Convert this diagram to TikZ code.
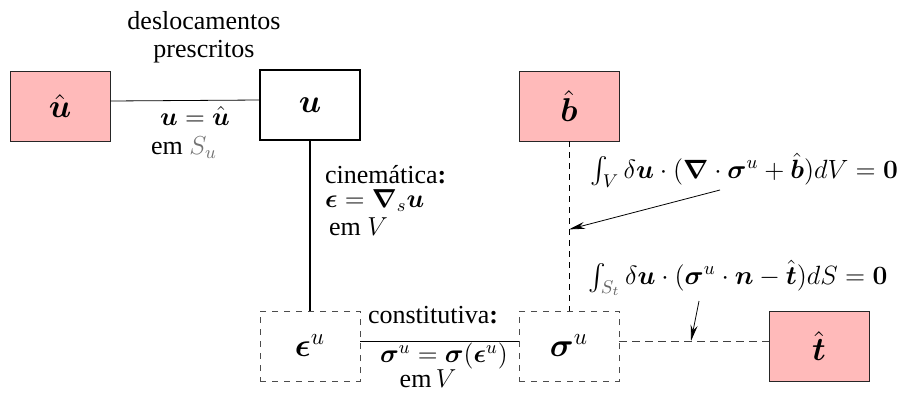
\RequirePackage{fix-cm}
\documentclass[tikz,border=0pt]{standalone}
\usepackage{amsmath,amssymb}
\usepackage{fontspec}
\setmainfont{Liberation Serif}
\usetikzlibrary{arrows.meta,calc}
\definecolor{givenpink}{RGB}{255,186,186}

\begin{document}
\begin{tikzpicture}[x=0.5pt,y=-0.5pt,
    every node/.style={font=\fontsize{13}{15}\selectfont},
    boxed/.style={minimum width=50pt,minimum height=35pt,inner sep=0pt,font=\fontsize{16.5}{19}\selectfont},
    given/.style={boxed,draw=black!85,fill=givenpink},
    unknown/.style={boxed,draw,thick},
    trial/.style={boxed,draw=black!70,dashed},
    weak/.style={anchor=west,inner sep=1pt,font=\fontsize{13.2}{16}\selectfont},
    hint/.style={-{Stealth[length=8pt,width=3.5pt]}}]
    \useasboundingbox (0,0) rectangle (900,392);

    % Boxes
    \node[given] (uhat) at (60,106) {$\hat{\boldsymbol{u}}$};
    \node[unknown] (u) at (310,105) {$\boldsymbol{u}$};
    \node[given] (bhat) at (569,106) {$\hat{\boldsymbol{b}}$};
    \node[trial] (epsu) at (310,346) {$\boldsymbol{\epsilon}^u$};
    \node[trial] (sigu) at (569,346) {$\boldsymbol{\sigma}^u$};
    \node[given] (that) at (819,346) {$\hat{\boldsymbol{t}}$};

    % Prescribed displacements
    \draw ([yshift=2.5pt]uhat.east) -- ([yshift=2.5pt]u.west);
    \node at (204,21) {deslocamentos};
    \node at (204,52) {prescritos};
    \node at (195,116) {$\boldsymbol{u}=\hat{\boldsymbol{u}}$};
    \node at (184,148) {em \textcolor{black!55}{$S_u$}};

    % Kinematics
    \draw[thick] (u) -- (epsu);
    \node[anchor=west] at (318,175) {cinemática\textbf{:}};
    \node[anchor=west] at (318,201) {$\boldsymbol{\epsilon}=\boldsymbol{\nabla}_s\boldsymbol{u}$};
    \node[anchor=west] at (322,227) {em $V$};

    % Constitutive law
    \draw ([yshift=2.5pt]epsu.east) -- ([yshift=2.5pt]sigu.west);
    \node at (433,315) {constitutiva\textbf{:}};
    \node at (444,356) {$\boldsymbol{\sigma}^u=\boldsymbol{\sigma}(\boldsymbol{\epsilon}^u)$};
    \node at (428,379) {em$\,V$};

    % Equilibrium in V
    \draw[dashed,dash pattern=on 3pt off 2.5pt] (bhat) -- (sigu);
    \node[weak] (eqv) at (588,170)
      {$\int_V\delta\boldsymbol{u}\cdot(\boldsymbol{\nabla}\cdot\boldsymbol{\sigma}^u+\hat{\boldsymbol{b}})dV=\boldsymbol{0}$};
    \coordinate (onv) at ($(bhat.south)!0.52!(sigu.north)$);
    \draw[hint] (720,190) -- (onv);

    % Equilibrium on S_t
    \draw[dashed,black!75,dash pattern=on 4pt off 2.5pt] ([yshift=2.5pt]sigu.east) -- ([yshift=2.5pt]that.west);
    \node[weak] (eqs) at (586,278)
      {$\int_{\textcolor{black!60}{S_t}}\delta\boldsymbol{u}\cdot(\boldsymbol{\sigma}^u\cdot\boldsymbol{n}-\hat{\boldsymbol{t}})dS=\boldsymbol{0}$};
    \coordinate (ons) at ($([yshift=2.5pt]sigu.east)!0.48!([yshift=2.5pt]that.west)$);
    \draw[hint] (699,301) -- (ons);
\end{tikzpicture}
\end{document}
